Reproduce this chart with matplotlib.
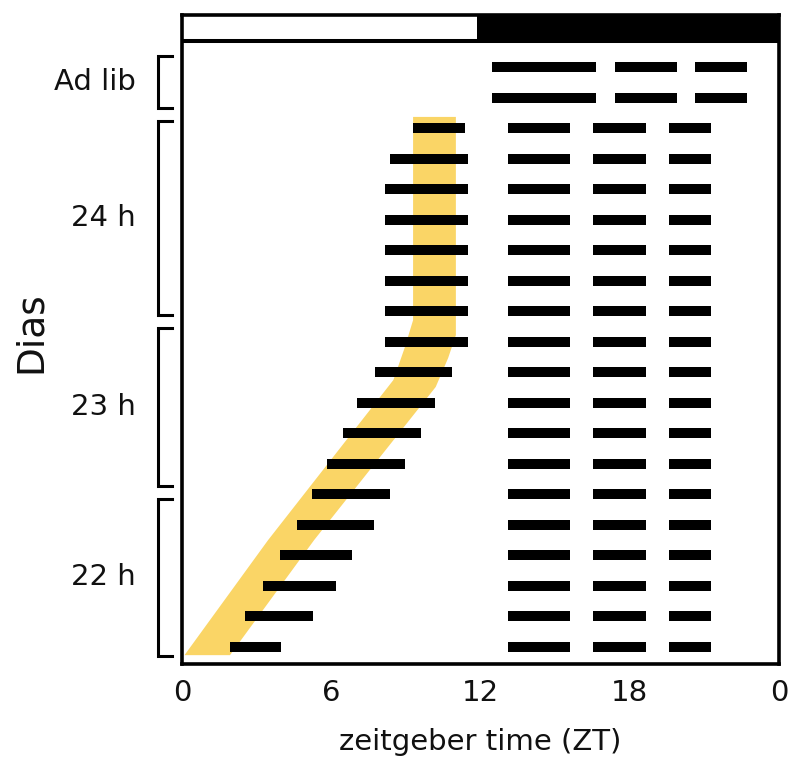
import numpy as np
import matplotlib
matplotlib.use("Agg")
import matplotlib.pyplot as plt
from matplotlib.patches import Polygon

# rows: ad lib days on top, then restricted-feeding days (0 = first day)
adlib_rows = [-2, -1]
adlib_bouts = [(12.45, 16.63), (17.41, 19.89), (20.62, 22.73)]

day_rows = np.arange(18)
night_bouts = [(13.09, 15.61), (16.53, 18.64), (19.58, 21.25)]
anticip_start = [9.29, 8.36, 8.16, 8.16, 8.16, 8.16, 8.16, 8.16, 7.76,
                 7.04, 6.47, 5.83, 5.23, 4.62, 3.94, 3.26, 2.53, 1.93]
anticip_end = [11.38, 11.50, 11.50, 11.50, 11.50, 11.50, 11.50, 11.50, 10.85,
               10.17, 9.61, 8.96, 8.36, 7.72, 6.83, 6.19, 5.27, 3.98]

# food availability band (ZT, row)
band_left_x = [9.29, 9.29, 8.95, 8.50, 3.46, 0.10]
band_left_y = [-0.37, 6.29, 7.20, 8.25, 13.5, 17.27]
band_right_x = [11.01, 11.01, 10.70, 10.20, 5.31, 1.93]
band_right_y = [-0.37, 6.78, 7.53, 8.48, 13.5, 17.27]

groups = ["Ad lib", "24 h", "23 h", "22 h"]
group_span = [(-2.37, -0.67), (-0.24, 6.12), (6.55, 11.73), (12.15, 17.30)]

xticks = [0, 6, 12, 18, 24]
xticklabels = ["0", "6", "12", "18", "0"]

YELLOW = "#FAD566"
BH = 0.33

fig = plt.figure(figsize=(7.89, 7.57), dpi=100)
ax = fig.add_axes([182 / 789, 1 - 664 / 757, 597 / 789, 649.3 / 757])
ax.set_xlim(0, 24)
ax.set_ylim(17.56, -3.72)

# yellow band
pts = list(zip(band_left_x, band_left_y)) + list(zip(band_right_x, band_right_y))[::-1]
ax.add_patch(Polygon(pts, closed=True, facecolor=YELLOW, edgecolor="none", zorder=1))

# activity bars
for r in adlib_rows:
    ax.broken_barh([(a, b - a) for a, b in adlib_bouts], (r - BH / 2, BH),
                   facecolors="black", zorder=3)
for r, s, e in zip(day_rows, anticip_start, anticip_end):
    ax.broken_barh([(s, e - s)] + [(a, b - a) for a, b in night_bouts],
                   (r - BH / 2, BH), facecolors="black", zorder=3)

# light/dark bar on top
ax.broken_barh([(11.85, 12.15)], (-3.72, 0.85), facecolors="black", zorder=4)
ax.axhline(-2.87, color="black", lw=2.9, zorder=4)

for sp in ax.spines.values():
    sp.set_linewidth(2.6)

# group brackets
for lab, (y0, y1) in zip(groups, group_span):
    ax.plot([-0.40, -0.965, -0.965, -0.40], [y0, y0, y1, y1], color="black",
            lw=2.2, clip_on=False, solid_joinstyle="miter")
    ax.text(-1.85, (y0 + y1) / 2, lab, ha="right", va="center", fontsize=21,
            color="#111111")

ax.set_xticks(xticks)
ax.set_xticklabels(xticklabels)
ax.set_yticks([])
ax.tick_params(axis="x", length=0, pad=11, labelsize=21, labelcolor="#111111")
ax.set_xlabel("zeitgeber time (ZT)", fontsize=21, labelpad=15, color="#111111")
fig.text(31 / 789, 1 - 332 / 757, "Dias", rotation=90, ha="center", va="center",
         fontsize=27, color="#111111")

fig.savefig("out.png", dpi=100)
